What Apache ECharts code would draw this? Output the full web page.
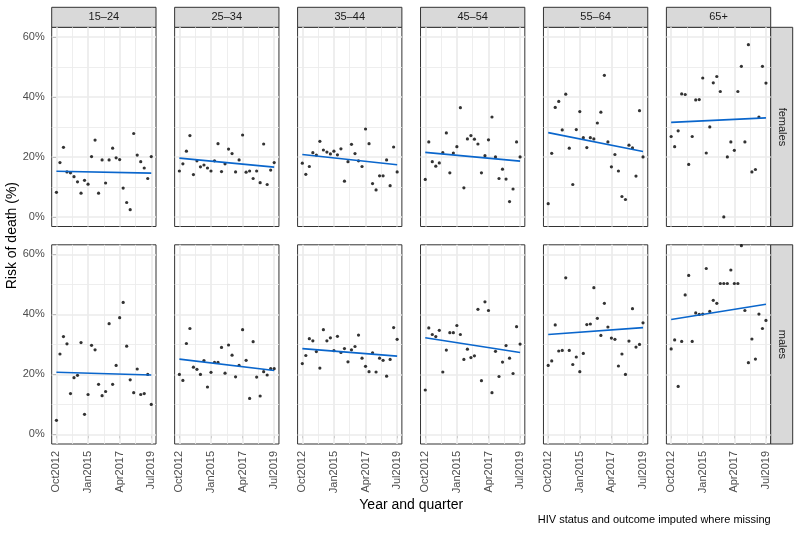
<!DOCTYPE html>
<html><head><meta charset="utf-8">
<script src="https://cdn.jsdelivr.net/npm/echarts@6/dist/echarts.min.js"></script>
<style>html,body{margin:0;padding:0;background:#fff}#c{width:800px;height:533px}</style>
</head><body><div id="c"></div>
<script>
// ---- data ----
const ageGroups = ['15–24','25–34','35–44','45–54','55–64','65+'];
const sexes = ['females','males'];
// x = quarter index: 0 = Oct2012 ... 27 = Jul2019
const xTickValues = [0, 9, 18, 27];
const xTickLabels = ['Oct2012','Jan2015','Apr2017','Jul2019'];
const yTickValues = [0, 20, 40, 60];
const yTickLabels = ['0%','20%','40%','60%'];
// risk of death (%) per quarter
const females_15_24 = [8.2,18.1,23.2,15.0,14.7,13.4,11.7,7.9,12.2,10.9,20.1,25.6,7.9,19.0,11.3,19.0,22.9,19.7,19.1,9.6,4.8,2.4,27.8,20.6,18.4,16.3,12.8,20.1];
const females_25_34 = [15.3,17.7,21.9,27.1,14.1,18.7,16.7,17.3,16.3,15.3,18.7,24.4,15.1,17.7,22.6,21.1,15.0,19.0,27.3,14.9,15.3,12.8,15.3,11.4,24.3,10.8,15.6,18.1];
const females_35_44 = [17.9,14.2,16.8,21.4,20.6,25.2,22.3,21.6,21.0,21.9,20.7,22.7,11.9,18.4,24.2,21.1,18.7,16.8,29.3,24.4,11.1,9.0,13.7,13.7,19.0,10.4,23.3,15.0];
const females_45_54 = [12.5,25.0,18.4,16.9,18.0,21.4,28.0,14.7,21.3,23.4,36.4,9.7,26.0,27.1,25.9,24.3,14.7,20.4,25.7,33.3,20.0,12.8,15.9,12.6,5.1,9.3,25.0,20.0];
const females_55_64 = [4.4,21.2,36.5,38.5,29.0,40.9,22.9,10.8,29.1,35.1,26.4,23.1,26.4,26.0,31.3,34.9,47.2,25.0,16.7,20.8,15.3,6.8,5.8,23.9,23.0,13.6,35.4,20.0];
const females_65p   = [26.8,23.4,28.7,41.0,40.8,17.5,26.8,39.0,39.1,46.3,21.3,30.0,44.7,46.8,41.8,0.0,20.0,25.0,22.2,41.8,50.2,25.0,57.4,15.0,15.8,33.3,50.2,44.6];
const males_15_24 = [4.7,26.8,32.6,30.2,13.6,18.9,19.7,30.6,6.7,13.3,29.7,28.2,16.7,12.9,14.3,36.9,16.7,23.0,38.9,44.0,29.4,18.2,13.9,21.8,13.3,13.6,20.0,10.0];
const males_25_34 = [20.0,18.0,30.3,35.3,22.4,21.7,20.0,24.6,15.8,20.7,24.0,24.0,29.0,20.4,29.8,26.4,19.2,23.0,34.9,24.7,12.0,30.9,19.1,12.8,20.9,19.8,21.9,21.9];
const males_35_44 = [23.6,26.3,31.9,31.2,27.6,22.1,34.9,31.2,32.2,27.9,32.7,27.3,28.6,24.2,28.2,29.3,33.1,25.4,22.7,20.9,27.2,20.8,25.4,24.7,19.4,25.0,35.6,31.7];
const males_45_54 = [14.8,35.5,33.3,32.6,34.7,20.8,28.1,33.9,33.9,36.3,33.3,25.0,28.4,25.6,26.2,41.7,17.9,44.2,41.3,13.9,27.7,19.3,24.1,29.6,25.4,20.3,35.9,30.1];
const males_55_64 = [23.0,24.5,36.5,27.8,28.0,52.2,28.0,23.3,25.8,20.9,27.0,36.6,36.8,48.9,38.7,33.0,43.7,35.8,32.1,31.7,22.8,26.8,20.0,31.1,41.9,29.1,30.0,37.2];
const males_65p   = [28.5,31.5,16.0,31.0,46.5,53.0,31.0,40.5,40.0,40.1,55.3,41.0,44.7,43.7,50.3,50.3,50.3,54.8,50.3,50.3,62.9,41.3,23.9,31.8,25.1,40.1,35.3,38.0];
// fitted trend line (%) at Oct2012 and Jul2019, per age group
const females_trend_start = [15.2,19.6,20.8,21.5,28.1,31.5];
const females_trend_end   = [14.6,16.6,17.4,18.6,21.8,33.0];
const males_trend_start   = [20.7,25.1,28.6,32.2,33.3,38.3];
const males_trend_end     = [19.8,21.3,26.1,27.3,35.6,43.4];

const panelData = [
  [females_15_24, females_25_34, females_35_44, females_45_54, females_55_64, females_65p],
  [males_15_24, males_25_34, males_35_44, males_45_54, males_55_64, males_65p]
];
const trendStart = [females_trend_start, males_trend_start];
const trendEnd = [females_trend_end, males_trend_end];

// ---- layout ----
const L0 = 51.7, STEP = 122.94, PW = 104.3;
const TOPS = [27.3, 244.8], PH = 199.2;
const STRIP_H = 20, STRIP_W = 22;
const X_MIN = -1.35, X_MAX = 28.35, Y_MIN = -3.2, Y_MAX = 63.2;
const GRID_COL = '#EBEBEB', BORDER = '#333333', AXIS_TXT = '#4D4D4D';
const FONT = '"Liberation Sans", Arial, Helvetica, sans-serif';

const grids=[], xAxes=[], yAxes=[], series=[], graphics=[];
let k=0;
for (let r=0;r<2;r++) for (let c=0;c<6;c++) {
  const left = L0 + c*STEP, top = TOPS[r];
  grids.push({left:left, top:top, width:PW, height:PH, show:true, backgroundColor:'#fff', borderColor:BORDER, borderWidth:1, containLabel:false});
  xAxes.push({gridIndex:k, type:'value', min:X_MIN, max:X_MAX,
    splitLine:{show:false}, axisLine:{show:false},
    axisTick:{show:r===1, customValues:xTickValues, length:4, lineStyle:{color:BORDER, width:1}},
    axisLabel:{show:r===1, customValues:xTickValues, rotate:90, margin:7, color:AXIS_TXT, fontSize:11, fontFamily:FONT,
      formatter:v=>xTickLabels[xTickValues.indexOf(Math.round(v))]}});
  yAxes.push({gridIndex:k, type:'value', min:Y_MIN, max:Y_MAX,
    splitLine:{show:false}, axisLine:{show:false},
    axisTick:{show:c===0, customValues:yTickValues, length:4, lineStyle:{color:BORDER, width:1}},
    axisLabel:{show:c===0, customValues:yTickValues, margin:7, color:AXIS_TXT, fontSize:11, fontFamily:FONT,
      formatter:v=>yTickLabels[yTickValues.indexOf(Math.round(v))]}});
  // gridlines (major + minor)
  const gl=[];
  [0,4.5,9,13.5,18,22.5,27].forEach((v,i)=>gl.push({xAxis:v, lineStyle:{color:GRID_COL, width: i%2===0?1.7:0.85, type:'solid'}}));
  [0,10,20,30,40,50,60].forEach((v,i)=>gl.push({yAxis:v, lineStyle:{color:GRID_COL, width: i%2===0?1.7:0.85, type:'solid'}}));
  series.push({type:'line', xAxisIndex:k, yAxisIndex:k, data:[], z:1, silent:true,
    markLine:{silent:true, z:1, symbol:['none','none'], label:{show:false}, animation:false, emphasis:{disabled:true}, data:gl}});
  const ys = panelData[r][c];
  series.push({type:'scatter', xAxisIndex:k, yAxisIndex:k, z:3, symbolSize:3.2, itemStyle:{color:'#000'}, silent:true,
    data: ys.map((y,i)=>[i,y])});
  series.push({type:'line', xAxisIndex:k, yAxisIndex:k, z:4, showSymbol:false, silent:true,
    lineStyle:{color:'#0A66CC', width:1.6},
    data:[[xTickValues[0], trendStart[r][c]], [xTickValues[3], trendEnd[r][c]]]});
  k++;
}
// strips
for (let c=0;c<6;c++) {
  const left = L0 + c*STEP;
  graphics.push({type:'rect', shape:{x:left, y:TOPS[0]-STRIP_H, width:PW, height:STRIP_H}, style:{fill:'#D9D9D9', stroke:BORDER, lineWidth:1}});
  graphics.push({type:'text', x:left+PW/2, y:TOPS[0]-STRIP_H/2, style:{text:ageGroups[c], fill:'#1A1A1A', font:'11px '+FONT, align:'center', verticalAlign:'middle'}});
}
const RX = L0 + 5*STEP + PW;
for (let r=0;r<2;r++) {
  graphics.push({type:'rect', shape:{x:RX, y:TOPS[r], width:STRIP_W, height:PH}, style:{fill:'#D9D9D9', stroke:BORDER, lineWidth:1}});
  graphics.push({type:'text', x:RX+STRIP_W/2, y:TOPS[r]+PH/2, rotation:-Math.PI/2, style:{text:sexes[r], fill:'#1A1A1A', font:'11px '+FONT, align:'center', verticalAlign:'middle'}});
}
graphics.push({type:'text', x:12, y:(TOPS[0]+TOPS[1]+PH)/2, rotation:Math.PI/2, style:{text:'Risk of death (%)', fill:'#000', font:'14px '+FONT, align:'center', verticalAlign:'middle'}});
graphics.push({type:'text', x:(L0+RX)/2, y:505, style:{text:'Year and quarter', fill:'#000', font:'14px '+FONT, align:'center', verticalAlign:'middle'}});
graphics.push({type:'text', x:RX, y:520, style:{text:'HIV status and outcome imputed where missing', fill:'#000', font:'11px '+FONT, align:'right', verticalAlign:'middle'}});

const chart = echarts.init(document.getElementById('c'), null, {renderer:'canvas'});
chart.setOption({animation:false, grid:grids, xAxis:xAxes, yAxis:yAxes, series:series, graphic:graphics});
</script></body></html>
